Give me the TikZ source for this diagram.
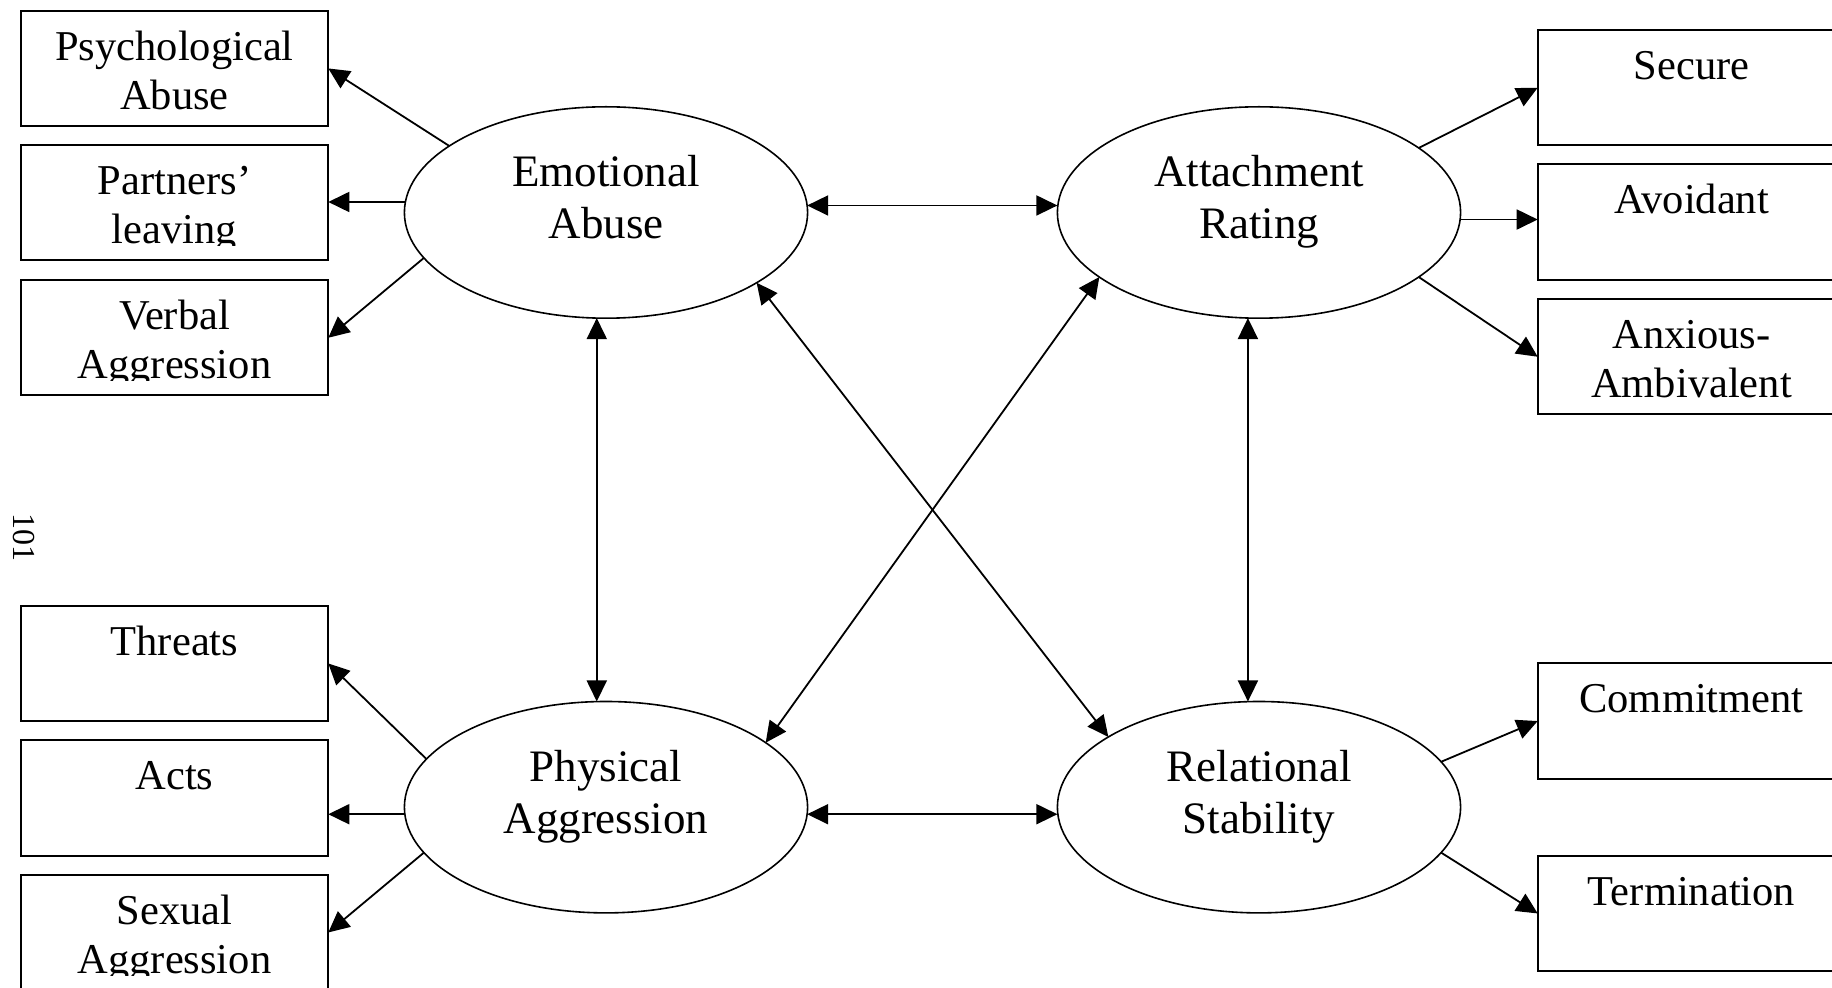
\documentclass[tikz,border=0pt]{standalone}
\usepackage{fontspec}
\setmainfont{Liberation Serif}
\usetikzlibrary{arrows.meta,shapes.geometric,calc}
\begin{document}
\begin{tikzpicture}[x=0.5pt,y=-0.5pt,
  line width=0.9pt,
  obs/.style={draw, line width=1pt, rectangle, anchor=north west,
    minimum width=153.8pt, minimum height=57.75pt, inner sep=0pt, outer sep=0pt},
  lat/.style={draw, line width=0.8pt, ellipse,
    minimum width=201.6pt, minimum height=105.7pt, inner sep=0pt, outer sep=0pt},
  btxt/.style={anchor=base, inner sep=0pt, font=\fontsize{21.25pt}{24.65pt}\selectfont},
  etxt/.style={anchor=base, inner sep=0pt, font=\fontsize{22.5pt}{26.15pt}\selectfont},
  tip/.style={-{Triangle[length=10.5pt,width=10pt]}},
  both/.style={{Triangle[length=10.5pt,width=10pt]}-{Triangle[length=10.5pt,width=10pt]}}
]
\clip (0,0) rectangle (1832,988);
\fill[white] (0,0) rectangle (1832,988);

% observed indicators, left side
\node[obs] (psych)    at (20.7,10.7)  {};
\node[obs] (partners) at (20.7,145)   {};
\node[obs] (verbal)   at (20.7,280)   {};
\node[obs] (threats)  at (20.7,605.7) {};
\node[obs] (acts)     at (20.7,740)   {};
\node[obs] (sexual)   at (20.7,874.7) {};
% observed indicators, right side
\node[obs] (secure)   at (1537.7,30)    {};
\node[obs] (avoidant) at (1537.7,164.3) {};
\node[obs] (anxious)  at (1537.7,299)   {};
\node[obs] (commit)   at (1537.7,663.3) {};
\node[obs] (termin)   at (1537.7,855.7) {};

% indicator labels
\node[btxt] (psychA) at ($(psych.north)+(0,49.4)$) {Psychological};
\node[btxt] (psychB) at ($(psych.north)+(0,98.7)$) {Abuse};
\node[btxt] (partnersA) at ($(partners.north)+(0,49.4)$) {Partners’};
\begin{scope}
  \clip (partners.north west) rectangle ($(partners.north east)+(0,100.7)$);
  \node[btxt] (partnersB) at ($(partners.north)+(0,98.7)$) {leaving};
\end{scope}
\node[btxt] (verbalA) at ($(verbal.north)+(0,49.4)$) {Verbal};
\begin{scope}
  \clip (verbal.north west) rectangle ($(verbal.north east)+(0,100.7)$);
  \node[btxt] (verbalB) at ($(verbal.north)+(0,98.7)$) {Aggression};
\end{scope}
\node[btxt] (threatsA) at ($(threats.north)+(0,49.4)$) {Threats};
\node[btxt] (actsA) at ($(acts.north)+(0,49.4)$) {Acts};
\node[btxt] (sexualA) at ($(sexual.north)+(0,49.4)$) {Sexual};
\begin{scope}
  \clip (sexual.north west) rectangle ($(sexual.north east)+(0,100.7)$);
  \node[btxt] (sexualB) at ($(sexual.north)+(0,98.7)$) {Aggression};
\end{scope}
\node[btxt] (secureA) at ($(secure.north)+(0,49.4)$) {Secure};
\node[btxt] (avoidantA) at ($(avoidant.north)+(0,49.4)$) {Avoidant};
\node[btxt] (anxiousA) at ($(anxious.north)+(0,49.4)$) {Anxious-};
\node[btxt] (anxiousB) at ($(anxious.north)+(0,98.7)$) {Ambivalent};
\node[btxt] (commitA) at ($(commit.north)+(0,49.4)$) {Commitment};
\node[btxt] (terminA) at ($(termin.north)+(0,49.4)$) {Termination};

% latent constructs
\node[lat] (ea) at (606,212.5)  {};
\node[lat] (ar) at (1259,212.5) {};
\node[lat] (pa) at (606,807.2)  {};
\node[lat] (rs) at (1259,807.2) {};
\node[etxt] (eaA) at ($(ea.center)+(0,-26)$) {Emotional};
\node[etxt] (eaB) at ($(ea.center)+(0,26.3)$) {Abuse};
\node[etxt] (arA) at ($(ar.center)+(0,-26)$) {Attachment};
\node[etxt] (arB) at ($(ar.center)+(0,26.3)$) {Rating};
\node[etxt] (paA) at ($(pa.center)+(0,-26)$) {Physical};
\node[etxt] (paB) at ($(pa.center)+(0,26.3)$) {Aggression};
\node[etxt] (rsA) at ($(rs.center)+(0,-26)$) {Relational};
\node[etxt] (rsB) at ($(rs.center)+(0,26.3)$) {Stability};

% page number
\node[rotate=-90, inner sep=0pt, font=\fontsize{16pt}{19pt}\selectfont] (pagenum) at (23.9,537.3) {101};

% loadings
\draw[tip] (ea.157.7) -- (psych.east);
\draw[tip] (ea.177.2) -- (ea.177.2 -| partners.east);
\draw[tip] (ea.194.9) -- (verbal.east);
\draw[tip] (pa.165.5) -- (threats.east);
\draw[tip] (pa.182.7) -- (pa.182.7 -| acts.east);
\draw[tip] (pa.194.9) -- (sexual.east);
\draw[tip] (ar.22.5)  -- (secure.west);
\draw[tip] (ar.-2.6)  -- (ar.-2.6 -| avoidant.west);
\draw[tip] (ar.-22.3) -- (anxious.west);
\draw[tip] (rs.14.9)  -- (commit.west);
\draw[tip] (rs.-14.8) -- (termin.west);

% correlations between constructs
\draw[both] (ea.2.8)   -- (ea.2.8 -| ar.west);
\draw[both] (pa.-2.7)  -- (pa.-2.7 -| rs.west);
\draw[both] (ea.265.4) -- (ea.265.4 |- pa.north);
\draw[both] (ar.264.8) -- (ar.264.8 |- rs.north);
\draw[both] (ea.-25.1) -- (rs.155.3);
\draw[both] (ar.202.5) -- (pa.22.25);
\end{tikzpicture}
\end{document}
